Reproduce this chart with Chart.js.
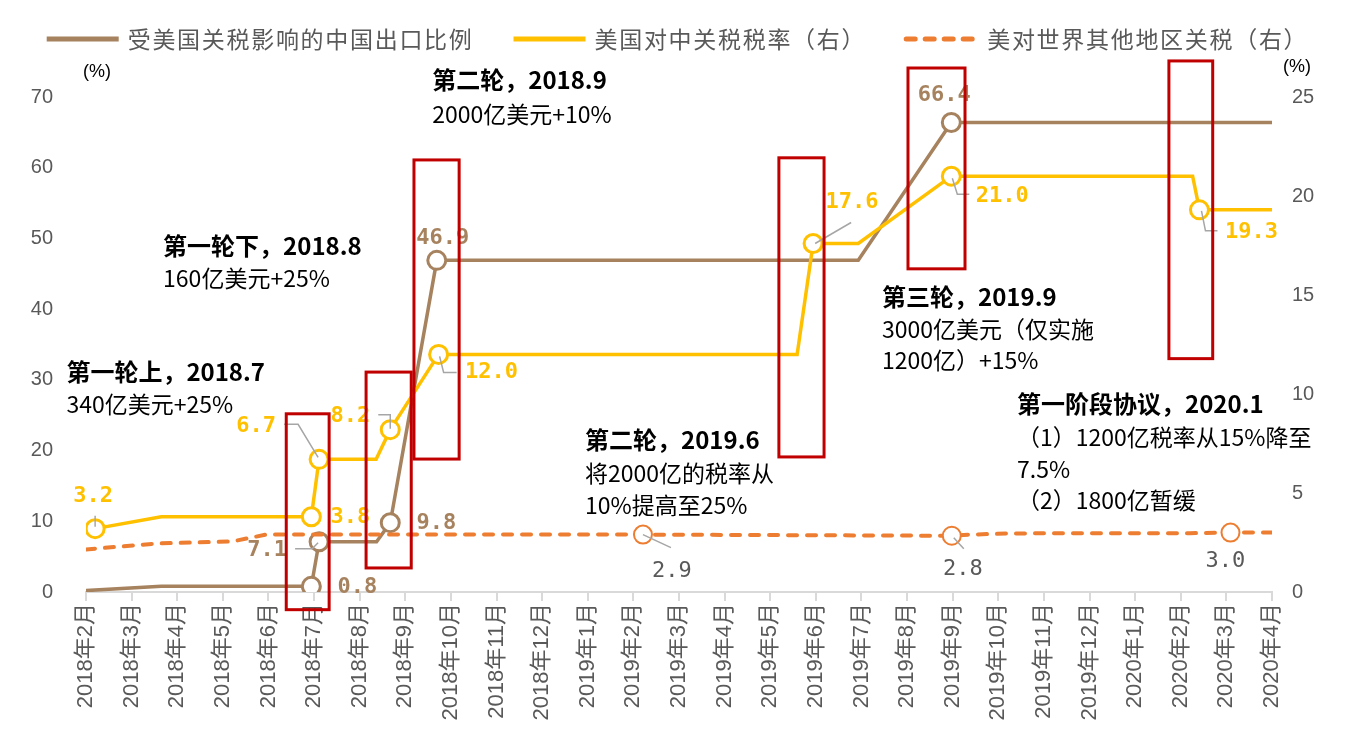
<!DOCTYPE html>
<html>
<head>
<meta charset="utf-8">
<style>
  html, body { margin: 0; padding: 0; background: #fff; }
</style>
<script src="https://cdn.jsdelivr.net/npm/chart.js@4.4.1/dist/chart.umd.min.js"></script>
</head>
<body>
<canvas id="myChart" width="1355" height="739"></canvas>
<script>
// x categories (monthly ticks)
const months = ['2018年2月', '2018年3月', '2018年4月', '2018年5月', '2018年6月', '2018年7月', '2018年8月',
  '2018年9月', '2018年10月', '2018年11月', '2018年12月', '2019年1月', '2019年2月', '2019年3月', '2019年4月',
  '2019年5月', '2019年6月', '2019年7月', '2019年8月', '2019年9月', '2019年10月', '2019年11月', '2019年12月',
  '2020年1月', '2020年2月', '2020年3月', '2020年4月'];

// positions are in months since 2018年2月
const shareX = [0, 1.65, 4.94, 5.11, 6.37, 6.67, 7.69, 16.93, 18.97, 26];
const shareVals = [0.2, 0.8, 0.8, 7.1, 7.1, 9.8, 46.9, 46.9, 66.4, 66.4];

const chinaX = [0.2, 1.65, 4.94, 5.11, 6.36, 6.67, 7.73, 15.59, 15.94, 16.93, 18.97, 24.26, 24.41, 26];
const chinaVals = [3.2, 3.8, 3.8, 6.7, 6.7, 8.2, 12.0, 12.0, 17.6, 17.6, 21.0, 21.0, 19.3, 19.3];

const worldX = [0, 1.55, 3.2, 3.95, 12.21, 18.98, 19.4, 20.3, 24.2, 25.09, 26];
const worldVals = [2.15, 2.45, 2.55, 2.9, 2.9, 2.84, 2.9, 2.96, 2.97, 3.0, 3.0];

const leftTicks = [0, 10, 20, 30, 40, 50, 60, 70];
const rightTicks = [0, 5, 10, 15, 20, 25];

// which points get a circle marker + value label
const shareMarks = [2, 3, 5, 6, 8];
const chinaMarks = [0, 2, 3, 5, 6, 8, 10, 12];
const worldMarks = [4, 5, 9];

const BROWN = '#A6825E';
const YELLOW = '#FFC000';
const ORANGE = '#ED7D31';
const RED = '#C00000';
const GREY = '#595959';
const LEADER = '#A6A6A6';

// label offsets from the marker, and leader line paths (pixels, relative)
const labelStyle = {
  0: { color: BROWN, bold: true, items: {
    2: { dx: 46, dy: 1 },
    3: { dx: -52, dy: 8, leader: [[-1, 1], [-7, 7], [-24, 7]] },
    5: { dx: 46, dy: 1 },
    6: { dx: 6, dy: -22 },
    8: { dx: -7, dy: -27 }
  }},
  1: { color: YELLOW, bold: true, items: {
    0: { dx: -2, dy: -32, leader: [[0, -2], [0, -13]] },
    2: { dx: 39, dy: 1 },
    3: { dx: -63, dy: -33, leader: [[-1, -2], [-21, -35], [-35, -35]] },
    5: { dx: -40, dy: -13, leader: [[0, -1], [0, -15], [-12, -15]] },
    6: { dx: 53, dy: 18, leader: [[1, 2], [5, 18], [18, 18]] },
    8: { dx: 39, dy: -41, leader: [[2, 0], [38, -21]] },
    10: { dx: 51, dy: 20, leader: [[1, 2], [6, 18], [18, 18]] },
    12: { dx: 52, dy: 22, leader: [[2, 1], [6, 21], [18, 21]] }
  }},
  2: { color: GREY, bold: false, items: {
    4: { dx: 29, dy: 37, leader: [[0, 0], [28, 13]] },
    5: { dx: 11, dy: 34, leader: [[2, 2], [12, 13]] },
    9: { dx: -5, dy: 29 }
  }}
};

// red boxes, in (month index, left-axis value)
const boxes = [
  [4.39, 5.33, 25.2, -2.5],
  [6.14, 7.13, 31.1, 3.4],
  [7.19, 8.18, 61.1, 18.8],
  [15.19, 16.18, 61.4, 19.1],
  [18.02, 19.27, 74.1, 45.7],
  [23.74, 24.70, 75.1, 33.0]
];

// event notes, in (month index, left-axis value); first line bold
const notes = [
  { x: -0.43, y: [31.1, 26.6], lines: ['第一轮上，2018.7', '340亿美元+25%'] },
  { x: 1.69, y: [48.9, 44.3], lines: ['第一轮下，2018.8', '160亿美元+25%'] },
  { x: 7.59, y: [72.4, 67.6], lines: ['第二轮，2018.9', '2000亿美元+10%'] },
  { x: 10.94, y: [21.5, 16.8, 12.2], lines: ['第二轮，2019.6', '将2000亿的税率从', '10%提高至25%'] },
  { x: 17.45, y: [41.7, 37.2, 32.7], lines: ['第三轮，2019.9', '3000亿美元（仅实施', '1200亿）+15%'] },
  { x: 20.41, y: [26.6, 21.9, 17.4, 13.0], lines: ['第一阶段协议，2020.1', '（1）1200亿税率从15%降至', '7.5%', '（2）1800亿暂缓'] }
];

const CJK = '"Noto Sans CJK SC", "Liberation Sans", sans-serif';

function toPoints(xs, ys) {
  return xs.map((x, i) => ({ x: x, y: ys[i] }));
}
function markRadius(marks) {
  return ctx => marks.includes(ctx.dataIndex) ? 9 : 0;
}

const extras = {
  id: 'extras',
  afterDatasetsDraw(chart) {
    const ctx = chart.ctx;
    const xs = chart.scales.x, ys = chart.scales.y;
    ctx.save();

    // leader lines + value labels
    Object.keys(labelStyle).forEach(di => {
      const st = labelStyle[di];
      const meta = chart.getDatasetMeta(+di);
      const data = chart.data.datasets[di].data;
      Object.keys(st.items).forEach(idx => {
        const it = st.items[idx];
        const pt = meta.data[+idx];
        if (it.leader) {
          ctx.beginPath();
          ctx.strokeStyle = LEADER;
          ctx.lineWidth = 1.5;
          it.leader.forEach((p, k) => {
            if (k === 0) ctx.moveTo(pt.x + p[0], pt.y + p[1]);
            else ctx.lineTo(pt.x + p[0], pt.y + p[1]);
          });
          ctx.stroke();
        }
        ctx.fillStyle = st.color;
        ctx.font = (st.bold ? 'bold ' : '') + '22px "DejaVu Sans Mono", monospace';
        ctx.textAlign = 'center';
        ctx.textBaseline = 'middle';
        ctx.fillText(data[+idx].y.toFixed(1), pt.x + it.dx, pt.y + it.dy);
      });
    });

    // red boxes
    ctx.strokeStyle = RED;
    ctx.lineWidth = 3;
    boxes.forEach(b => {
      const x0 = xs.getPixelForValue(b[0]), x1 = xs.getPixelForValue(b[1]);
      const y0 = ys.getPixelForValue(b[2]), y1 = ys.getPixelForValue(b[3]);
      ctx.strokeRect(x0, y0, x1 - x0, y1 - y0);
    });

    // notes
    ctx.fillStyle = '#000';
    ctx.textAlign = 'left';
    ctx.textBaseline = 'middle';
    notes.forEach(n => {
      const x = xs.getPixelForValue(n.x);
      n.lines.forEach((t, k) => {
        ctx.font = (k === 0 ? 'bold 24px ' : '23px ') + CJK;
        ctx.fillText(t, x, ys.getPixelForValue(n.y[k]));
      });
    });

    // axis unit labels
    const area = chart.chartArea;
    ctx.font = '18px "Liberation Sans", sans-serif';
    ctx.textAlign = 'center';
    ctx.fillText('(%)', area.left + 11, area.top - 25);
    ctx.fillText('(%)', area.right + 25, area.top - 30);

    // legend
    ctx.font = '23px ' + CJK;
    if ('letterSpacing' in ctx) ctx.letterSpacing = '1.7px';
    const lineW = 72, gapTxt = 9, gapItem = 40;
    const ds = chart.data.datasets;
    const widths = ds.map(d => ctx.measureText(d.label).width);
    let total = 0;
    widths.forEach(w => { total += lineW + gapTxt + w; });
    total += gapItem * (ds.length - 1);
    let x = (chart.width - total) / 2;
    const ly = 39;
    ds.forEach((d, i) => {
      ctx.beginPath();
      ctx.strokeStyle = d.borderColor;
      ctx.lineWidth = 5;
      ctx.setLineDash(d.borderDash || []);
      ctx.lineCap = d.borderDash ? 'round' : 'butt';
      ctx.moveTo(x, ly);
      ctx.lineTo(x + lineW, ly);
      ctx.stroke();
      ctx.setLineDash([]);
      ctx.fillStyle = GREY;
      ctx.textAlign = 'left';
      ctx.fillText(d.label, x + lineW + gapTxt, ly);
      x += lineW + gapTxt + widths[i] + gapItem;
    });

    ctx.restore();
  }
};

const config = {
  type: 'line',
  data: {
    datasets: [
      {
        label: '受美国关税影响的中国出口比例',
        data: toPoints(shareX, shareVals),
        yAxisID: 'y',
        borderColor: BROWN,
        borderWidth: 3.5,
        pointRadius: markRadius(shareMarks),
        pointBackgroundColor: '#fff',
        pointBorderColor: BROWN,
        pointBorderWidth: 3,
        order: 2
      },
      {
        label: '美国对中关税税率（右）',
        data: toPoints(chinaX, chinaVals),
        yAxisID: 'y1',
        borderColor: YELLOW,
        borderWidth: 3.5,
        pointRadius: markRadius(chinaMarks),
        pointBackgroundColor: '#fff',
        pointBorderColor: YELLOW,
        pointBorderWidth: 3,
        order: 0
      },
      {
        label: '美对世界其他地区关税（右）',
        data: toPoints(worldX, worldVals),
        yAxisID: 'y1',
        borderColor: ORANGE,
        borderWidth: 4,
        borderDash: [9, 10],
        borderCapStyle: 'round',
        pointRadius: markRadius(worldMarks),
        pointBackgroundColor: '#fff',
        pointBorderColor: ORANGE,
        pointBorderWidth: 2,
        order: 1
      }
    ]
  },
  options: {
    responsive: false,
    animation: false,
    events: [],
    layout: { padding: { top: 97, left: 0, right: 0, bottom: 0 } },
    elements: { line: { tension: 0 } },
    plugins: {
      legend: { display: false },
      tooltip: { enabled: false }
    },
    scales: {
      x: {
        type: 'linear',
        min: 0,
        max: months.length - 1,
        offset: false,
        afterFit: s => { s.height = 147; },
        afterBuildTicks: s => { s.ticks = months.map((m, i) => ({ value: i })); },
        ticks: {
          stepSize: 1,
          autoSkip: false,
          maxRotation: 90,
          minRotation: 90,
          padding: 2,
          color: GREY,
          font: { family: '"Liberation Sans", "Noto Sans CJK SC", sans-serif', size: 22 },
          callback: v => months[v]
        },
        grid: { drawOnChartArea: false, drawTicks: true, tickLength: 9, color: '#D9D9D9', lineWidth: 2 },
        border: { display: true, color: '#D9D9D9', width: 2 }
      },
      y: {
        position: 'left',
        min: leftTicks[0],
        max: leftTicks[leftTicks.length - 1],
        afterFit: s => { s.width = 86; },
        afterBuildTicks: s => { s.ticks = leftTicks.map(v => ({ value: v })); },
        ticks: { color: GREY, padding: 33, font: { family: '"Liberation Sans", sans-serif', size: 20 } },
        grid: { display: false, drawTicks: false },
        border: { display: false }
      },
      y1: {
        position: 'right',
        min: rightTicks[0],
        max: rightTicks[rightTicks.length - 1],
        afterFit: s => { s.width = 83; },
        afterBuildTicks: s => { s.ticks = rightTicks.map(v => ({ value: v })); },
        ticks: { color: GREY, padding: 20, font: { family: '"Liberation Sans", sans-serif', size: 20 } },
        grid: { display: false, drawTicks: false },
        border: { display: false }
      }
    }
  },
  plugins: [extras]
};

const myChart = new Chart(document.getElementById('myChart'), config);
</script>
</body>
</html>
